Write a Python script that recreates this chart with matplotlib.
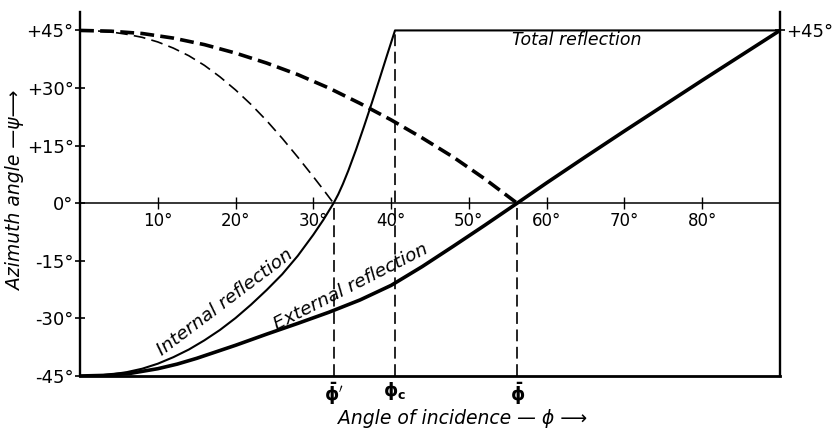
import matplotlib
matplotlib.use("Agg")
import matplotlib.pyplot as plt

# ---- data (angles in degrees) ----------------------------------------
# reflected-light azimuth, external reflection (n = 1.5)
ext_refl_x = [0, 3, 6.5, 10, 12.5, 15, 20, 24, 28, 32, 36, 40, 44, 48, 52,
              56.2, 60, 65, 70, 75, 80, 85, 90]
ext_refl_y = [-45, -44.85, -44.3, -43.1, -41.9, -40.4, -37.0, -34.1, -31.3,
              -28.4, -25.2, -21.4, -16.5, -11.2, -5.8, 0, 5.3, 12.1, 18.8,
              25.4, 32.0, 38.5, 45]

# reflected-light azimuth, internal reflection (total reflection beyond phi_c)
int_refl_x = [0, 2, 4, 6, 8, 10, 12, 14, 16, 18, 20, 22, 24, 26, 28, 30,
              31.3, 32.6, 33.2, 33.8, 34.5, 35.5, 36.5, 37.5, 38.5, 39.5,
              40.5, 90]
int_refl_y = [-45, -44.9, -44.6, -44.0, -43.1, -41.8, -40.1, -38.1, -35.7,
              -33.0, -29.9, -26.4, -22.6, -18.5, -13.7, -8.2, -4.3, 0, 2.3,
              5.0, 8.5, 14.0, 19.9, 26.0, 32.3, 38.7, 45, 45]

# refracted-light azimuth, external (heavy dashes)
ext_refr_x = [0, 4, 8, 12, 16, 20, 24, 28, 32, 36, 40, 44, 48, 52, 56.2]
ext_refr_y = [45, 44.8, 44.2, 43.0, 41.3, 39.1, 36.5, 33.5, 30.0, 26.0,
              21.7, 17.0, 12.0, 6.4, 0]

# refracted-light azimuth, internal (light dashes)
int_refr_x = [0, 2, 4, 6, 8, 10, 12, 14, 16, 18, 20, 22, 24, 26, 28, 30,
              31.3, 32.6]
int_refr_y = [45, 44.9, 44.6, 44.0, 43.2, 42.0, 40.4, 38.4, 35.9, 32.9,
              29.5, 25.7, 21.5, 16.9, 12.0, 6.9, 3.5, 0]

phi_bar_int = 32.6   # polarizing angle, internal
phi_crit = 40.5      # critical angle
phi_bar_ext = 56.2   # polarizing angle, external

x_ticks = [10, 20, 30, 40, 50, 60, 70, 80]
x_tick_labels = ["10°", "20°", "30°", "40°", "50°", "60°", "70°", "80°"]
y_ticks = [-45, -30, -15, 0, 15, 30, 45]
y_tick_labels = ["-45°", "-30°", "-15°", "0°", "+15°", "+30°", "+45°"]

# ---- figure ----------------------------------------------------------
plt.rcParams["font.family"] = ["DejaVu Sans"]
plt.rcParams["lines.scale_dashes"] = False

W, H = 839, 432
fig = plt.figure(figsize=(W / 100, H / 100), dpi=100)
ax = fig.add_axes([80 / W, 1 - 376 / H, 700 / W, (376 - 12) / H])
ax.set_xlim(0, 90)
ax.set_ylim(-45, 49.8)

ax.spines["top"].set_visible(False)
ax.spines["bottom"].set_position(("data", 0))
ax.spines["bottom"].set_linewidth(1.1)
ax.spines["left"].set_linewidth(1.7)
ax.spines["right"].set_linewidth(1.7)

ax.set_xticks(x_ticks, x_tick_labels)
ax.tick_params(axis="x", direction="inout", length=9, width=1.0, pad=2,
               labelsize=12)
ax.set_yticks(y_ticks, y_tick_labels)
ax.tick_params(axis="y", direction="inout", length=7, width=1.2, pad=1,
               labelsize=13)

# right-hand +45° mark
ax2 = ax.twinx()
ax2.set_ylim(ax.get_ylim())
ax2.set_yticks([45], ["+45°"])
ax2.tick_params(axis="y", direction="inout", length=7, width=1.2, pad=1,
                labelsize=13)
for s in ax2.spines.values():
    s.set_visible(False)

# base line at -45°
ax.axhline(-45, color="black", lw=2.0, clip_on=False)

# curves
ax.plot(ext_refl_x, ext_refl_y, color="black", lw=2.6,
        solid_joinstyle="round")
ax.plot(int_refl_x, int_refl_y, color="black", lw=1.5,
        solid_joinstyle="round")
ax.plot(ext_refr_x, ext_refr_y, color="black", lw=2.6,
        linestyle=(0, (10, 4.5)))
ax.plot(int_refr_x, int_refr_y, color="black", lw=1.2,
        linestyle=(0, (8.5, 4.5)))

# guide lines to the special angles
vdash = (0, (8.5, 4.0))
ax.vlines(phi_bar_int, -45, 0, colors="black", lw=1.2, linestyles=[vdash])
ax.vlines(phi_crit, -45, 45, colors="black", lw=1.2, linestyles=[vdash])
ax.vlines(phi_bar_ext, -45, 0, colors="black", lw=1.2, linestyles=[vdash])

for xv, lab in [(phi_bar_int, r"$\mathbf{\bar{\phi}'}$"),
                (phi_crit, r"$\mathbf{\phi_c}$"),
                (phi_bar_ext, r"$\mathbf{\bar{\phi}}$")]:
    ax.annotate(lab, xy=(xv, -45), xytext=(0, -3), textcoords="offset points",
                ha="center", va="top", fontsize=13, annotation_clip=False)

# curve captions
ax.text(63.9, 42.4, "Total reflection", ha="center", va="center",
        style="italic", fontsize=12.5)
ax.text(18.6, -25.8, "Internal reflection", ha="center", va="center",
        style="italic", fontsize=13.3, rotation=37, rotation_mode="anchor")
ax.text(34.8, -21.8, "External reflection", ha="center", va="center",
        style="italic", fontsize=13.3, rotation=27, rotation_mode="anchor")

# axis titles
fig.text(16 / W, 1 - 190 / H, "Azimuth angle —ψ⟶", rotation=90,
         ha="center", va="center", style="italic", fontsize=13.5)
fig.text(463 / W, 1 - 418 / H, "Angle of incidence — ϕ ⟶", ha="center",
         va="center", style="italic", fontsize=13.5)

fig.savefig("out.png", dpi=100)
